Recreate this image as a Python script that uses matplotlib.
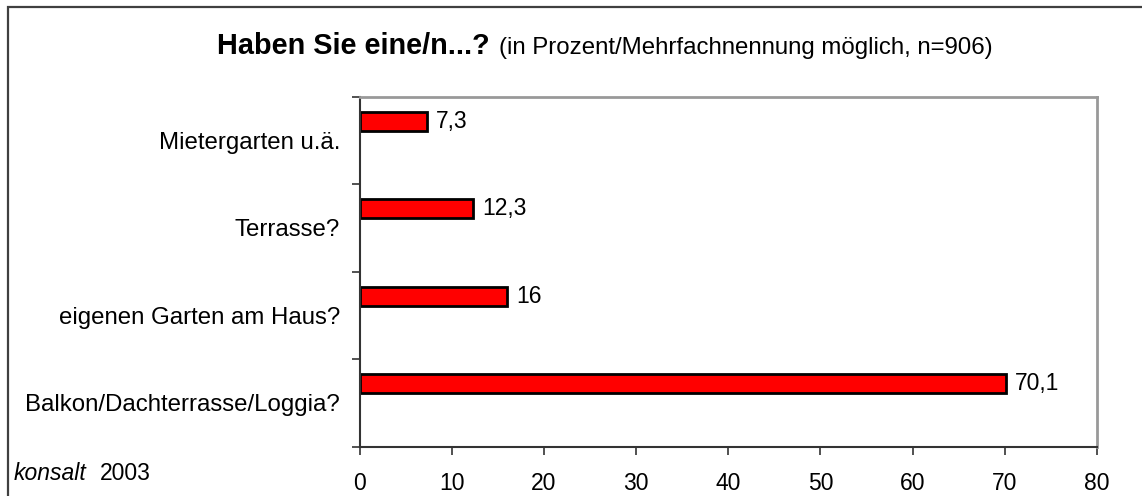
import numpy as np
import matplotlib.pyplot as plt
from matplotlib.patches import Rectangle

plt.rcParams['font.family'] = ['Liberation Sans', 'DejaVu Sans']

categories = ["Balkon/Dachterrasse/Loggia?", "eigenen Garten am Haus?", "Terrasse?", "Mietergarten u.ä."]
values = [70.1, 16, 12.3, 7.3]
value_labels = ["70,1", "16", "12,3", "7,3"]
xticks = [0, 10, 20, 30, 40, 50, 60, 70, 80]

W, H = 1142, 496
fig = plt.figure(figsize=(W / 100, H / 100), dpi=100)
ax = fig.add_axes([359.5 / W, (H - 446.7) / H, (1097 - 359.5) / W, 350 / H])

ypos = np.arange(len(categories))
# Excel-style bars sit above the category centre
ax.barh(ypos + 0.22, values, height=0.215, color='#ff0000', edgecolor='black', linewidth=2)
for y, v, lab in zip(ypos, values, value_labels):
    ax.annotate(lab, (v, y + 0.22), xytext=(6.5, 0), textcoords='offset points',
                va='center', ha='left', fontsize=16.5)

ax.set_xlim(0, 80)
ax.set_ylim(-0.5, 3.5)
ax.set_xticks(xticks)
ax.set_xticklabels([str(t) for t in xticks], fontsize=16.5)
ax.tick_params(axis='x', direction='out', length=6, width=1.2, color='#333333', pad=12)

ax.set_yticks(np.arange(-0.5, 4, 1))
ax.set_yticklabels([])
ax.tick_params(axis='y', which='major', direction='out', length=6, width=1.2, color='#333333')
ax.set_yticks(ypos, minor=True)
ax.set_yticklabels(categories, minor=True, fontsize=17.3)
ax.tick_params(axis='y', which='minor', length=0, pad=14)

for s in ['left', 'bottom']:
    ax.spines[s].set_color('#333333')
    ax.spines[s].set_linewidth(1.5)
for s in ['top', 'right']:
    ax.spines[s].set_color('#999999')
    ax.spines[s].set_linewidth(2)

# title: bold question + normal note
fig.text(490 / W, (H - 54) / H, "Haben Sie eine/n...?", fontsize=20.8, fontweight='bold',
         ha='right', va='baseline')
fig.text(499 / W, (H - 54) / H, "(in Prozent/Mehrfachnennung möglich, n=906)", fontsize=17.3,
         ha='left', va='baseline')

fig.text(14 / W, (H - 474) / H, "konsalt", fontsize=16.5, style='italic', ha='left', va='center')
fig.text(100 / W, (H - 474) / H, "2003", fontsize=16.5, ha='left', va='center')

# outer frame, runs off the right and bottom edge
fig.patches.append(Rectangle((8 / W, -0.05), 1.1, (H - 6.7) / H + 0.05, transform=fig.transFigure,
                             fill=False, edgecolor='#404040', linewidth=1.6, clip_on=False))

fig.savefig("out.png", dpi=100)
